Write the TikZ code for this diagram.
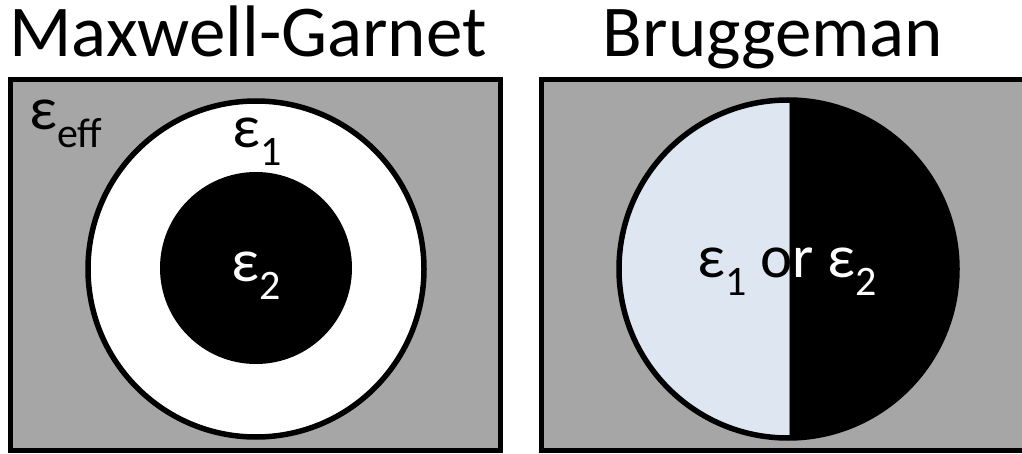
\documentclass[tikz,border=0pt]{standalone}
\usepackage{fontspec}
\setmainfont{Carlito}
\usepackage{xcolor}
\definecolor{em-gray}{RGB}{166,166,166}
\definecolor{em-light}{RGB}{222,230,242}
\tikzset{
  em@box/.style={draw=black, fill=em-gray, line width=5.5pt},
  em@ring/.style={draw=black, line width=5.5pt},
  em@title/.style={font=\fontsize{73}{73}\selectfont, anchor=base, inner sep=0pt},
  em@lbl/.style={font=\fontsize{61}{61}\selectfont, inner sep=0pt},
}
\newcommand{\emsub}[1]{\raisebox{-0.3em}{\fontsize{42}{42}\selectfont #1}}

\begin{document}
\begin{tikzpicture}[x=1pt, y=-1pt]
  \useasboundingbox (0,0) rectangle (1022,454);
  \clip (0,0) rectangle (1022,454);
  % Maxwell-Garnet
  \draw[em@box] (10.5,79.5) rectangle (500.5,450.5);
  \draw[em@ring, fill=white] (256,269) circle (168pt);
  \fill[black] (256,268) circle (96pt);
  \node[em@title] (mgtitle) at (248,57) {Maxwell-Garnet};
  \node[em@lbl] (epseff) at (66,124) {ε\emsub{eff}};
  \node[em@lbl] (epsone) at (257,142) {ε\emsub{1}};
  \node[em@lbl, text=white] (epstwo) at (256,276) {ε\emsub{2}};
  % Bruggeman
  \draw[em@box] (541.5,79.5) rectangle (1031.5,450.5);
  \begin{scope}
    \clip (788,269) circle (169pt);
    \fill[em-light] (600,90) rectangle (790,450);
    \fill[black] (790,90) rectangle (970,450);
    \draw[gray, line width=1pt] (789.5,90) -- (789.5,450);
  \end{scope}
  \draw[em@ring] (788,269) circle (169pt);
  \node[em@title] (brtitle) at (773,57) {Bruggeman};
  \begin{scope}
    \clip (600,90) rectangle (790,450);
    \node[em@lbl] (mixdark) at (787,272) {ε\emsub{1} or ε\emsub{2}};
  \end{scope}
  \begin{scope}
    \clip (790,90) rectangle (970,450);
    \node[em@lbl, text=white] (mixlight) at (787,272) {ε\emsub{1} or ε\emsub{2}};
  \end{scope}
\end{tikzpicture}
\end{document}
